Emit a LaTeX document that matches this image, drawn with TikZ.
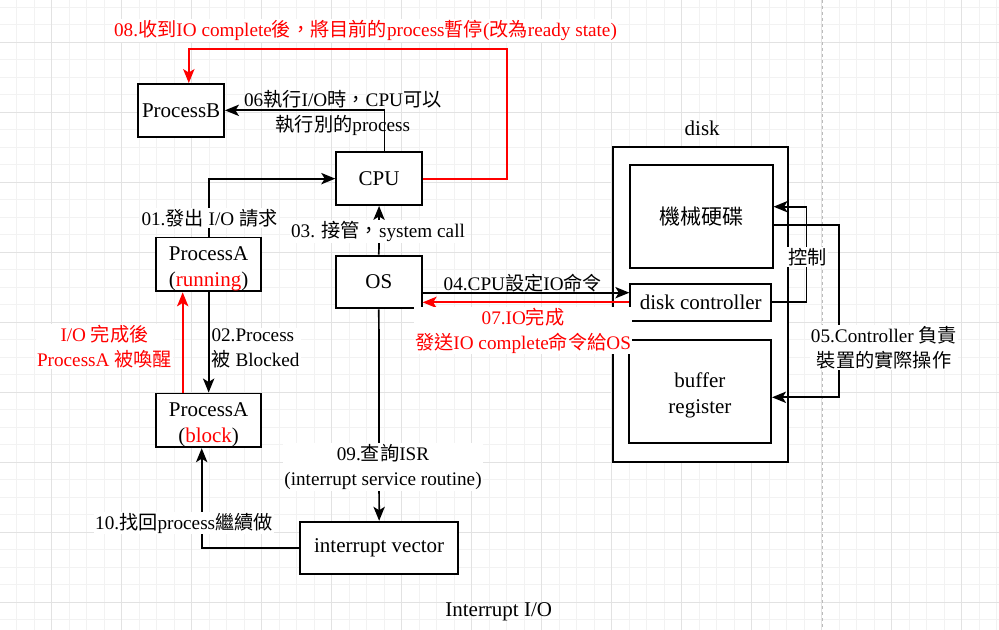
\documentclass[tikz,border=0pt]{standalone}
\usepackage{fontspec}
\setmainfont{Liberation Serif}
\newfontfamily\cjk{Noto Sans CJK TC}
\newcommand\zh[1]{{\cjk #1}}
\newcommand\topstrut{\rule{0pt}{17.5pt}}
\usetikzlibrary{arrows.meta}
\definecolor{dred}{HTML}{FF0000}
\definecolor{gminor}{HTML}{F2F2F2}
\definecolor{gmajor}{HTML}{E2E2E2}
\definecolor{pbreak}{HTML}{BBBBBB}
\begin{document}
\begin{tikzpicture}[x=0.75pt,y=-0.75pt,
  box/.style={draw, line width=1.4pt, fill=white, align=center, inner sep=0pt,
    font=\fontsize{15.75}{19.5}\selectfont},
  lbl/.style={fill=white, align=center, inner sep=0.8pt,
    font=\fontsize{14.4}{18.75}\selectfont},
  plain/.style={align=center, inner sep=0.8pt, font=\fontsize{14.4}{18.75}\selectfont},
  big/.style={inner sep=0pt, font=\fontsize{15.75}{19.5}\selectfont},
  arr/.style={line width=1.3pt, -{Stealth[length=10.5pt,width=8.5pt,inset=2.6pt]}},
  redarr/.style={arr, draw=dred},
  gridminor/.style={draw=gminor, line width=0.6pt},
  gridmajor/.style={draw=gmajor, line width=0.75pt},
]
\useasboundingbox (0,0) rectangle (999,630);
\fill[white] (0,0) rectangle (999,630);
% grid
\foreach \k in {0,...,56} \draw[gridminor] ({16.7+17.5*\k},0) -- ({16.7+17.5*\k},630);
\foreach \k in {0,...,35} \draw[gridminor] (0,{7.3+17.5*\k}) -- (999,{7.3+17.5*\k});
\foreach \k in {0,...,13} \draw[gridmajor] ({51.7+70*\k},0) -- ({51.7+70*\k},630);
\foreach \k in {0,...,8} \draw[gridmajor] (0,{42.3+70*\k}) -- (999,{42.3+70*\k});
\draw[pbreak, line width=0.75pt, dash pattern=on 2.5pt off 2pt] (822.7,0) -- (822.7,630);

% boxes
\node[box, minimum width=64.35pt, minimum height=39.5pt] (pb) at (181.1,110.35) {ProcessB};
\node[box, minimum width=64.35pt, minimum height=39.5pt] (cpu) at (379.1,178.65) {CPU};
\node[box, minimum width=79pt, minimum height=39.3pt] (pa) at (208.65,264.5) {\topstrut ProcessA\\({\color{dred}running})};
\node[box, minimum width=79pt, minimum height=39.5pt] (pab) at (208.65,420.35) {\topstrut ProcessA\\({\color{dred}block})};
\node[box, minimum width=64.3pt, minimum height=39.5pt] (os) at (378.85,282) {OS};
\node[box, minimum width=118.7pt, minimum height=39.2pt] (iv) at (379.15,547.85) {interrupt vector};
\node[box, minimum width=131.85pt, minimum height=235.8pt] (disk) at (700.5,304.5) {};
\node[box, minimum width=106.7pt, minimum height=77.25pt] (hd) at (701.45,216.5) {\zh{機械硬碟}};
\node[box, minimum width=105.6pt, minimum height=28pt] (dc) at (700.7,302.35) {disk controller};
\node[box, minimum width=106.7pt, minimum height=77.5pt] (br) at (699.95,391.35) {\topstrut buffer\\register};

\node[big] (disklbl) at (702.2,128.3) {disk};
\node[big] (caption) at (498.7,611.7) {Interrupt I/O};

% helper coordinates
\coordinate (x06) at (384.4,0);
\coordinate (r1) at (506.7,49.3);
\coordinate (x08) at (188.8,0);
\coordinate (xr) at (182.7,0);
\coordinate (x10) at (201.7,0);
\coordinate (y04) at (0,292.7);
\coordinate (xk) at (806.5,0);
\coordinate (yk) at (0,206.7);
\coordinate (y05a) at (0,225);
\coordinate (x05) at (839.2,0);
\coordinate (y05b) at (0,397.3);

% connectors
\draw[arr] (cpu.north -| x06) |- (pb.east);
\draw[redarr] (cpu.east) -| (r1) -| (pb.north -| x08);
\draw[arr] (pa.north) |- (cpu.west);
\draw[arr] (pa.south) -- (pab.north);
\draw[redarr] (pab.north -| xr) -- (pa.south -| xr);
\draw[arr] (os.north) -- (cpu.south);
\draw[arr] (os.south) -- (iv.north);
\draw[arr] (iv.west) -| (pab.south -| x10);
\draw[arr] (os.east |- y04) -- (dc.west |- y04);
\draw[redarr] (dc.west) -- (os.east |- dc.west);
\draw[arr] (dc.east) -| (xk |- yk) -- (hd.east |- yk);
\draw[arr] (hd.east |- y05a) -| (x05 |- y05b) -- (br.east |- y05b);

% labels
\node[lbl, text=dred] (t08) at (365.5,30.7) {08.\zh{收到}IO complete\zh{後，將目前的}process\zh{暫停}(\zh{改為}ready state)};
\node[plain] (l06) at (342.8,113) {06\zh{執行}I/O\zh{時，}CPU\zh{可以}\\\zh{執行別的}process};
\node[lbl] (l01) at (209.5,218.3) {01.\zh{發出} I/O \zh{請求}};
\node[lbl, anchor=west, align=left] (l02) at (210.2,348.5) {02.Process\\\zh{被} Blocked};
\node[lbl, text=dred] (lred) at (104.5,346.5) {I/O \zh{完成後}\\ProcessA \zh{被喚醒}};
\node[lbl] (l03) at (378,231.7) {03. \zh{接管，}system call};
\node[lbl] (l09) at (383,466.8) {09.\zh{查詢}ISR\\(interrupt service routine)};
\node[lbl] (l10) at (184,523.3) {10.\zh{找回}process\zh{繼續做}};
\node[plain] (l04) at (522.9,282.7) {04.CPU\zh{設定}IO\zh{命令}};
\node[lbl, text=dred] (l07) at (523,330.5) {07.IO\zh{完成}\\\zh{發送}IO complete\zh{命令給}OS};
\node[lbl] (lk) at (807.6,256.7) {\zh{控制}};
\node[lbl] (l05) at (884,347.7) {05.Controller \zh{負責}\\\zh{裝置的實際操作}};
\end{tikzpicture}
\end{document}
